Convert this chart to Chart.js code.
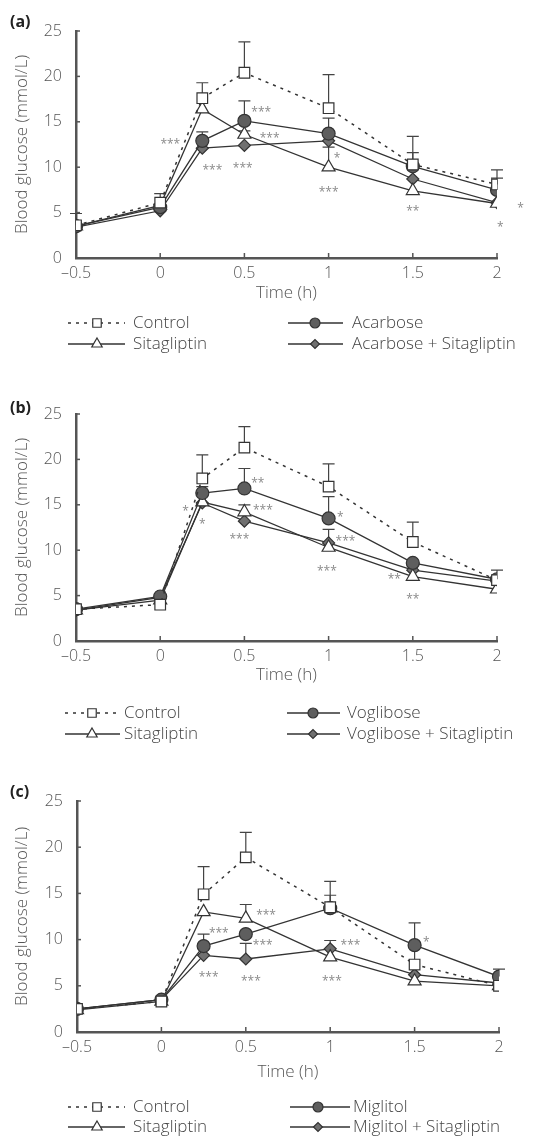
<!DOCTYPE html>
<html>
<head>
<meta charset="utf-8">
<script src="https://cdn.jsdelivr.net/npm/chart.js@4"></script>
<style>
  html, body { margin: 0; padding: 0; background: #fff; }
  #wrap { position: relative; width: 557px; height: 1141px; overflow: hidden; }
  canvas { position: absolute; left: 0; }
</style>
</head>
<body>
<div id="wrap">
  <canvas id="chartA" width="557" height="383" style="top:0px"></canvas>
  <canvas id="chartB" width="557" height="387" style="top:383px"></canvas>
  <canvas id="chartC" width="557" height="371" style="top:770px"></canvas>
</div>
<script>
// Shared axes
const times = [-0.5, 0, 0.25, 0.5, 1, 1.5, 2];
const xTicks = [-0.5, 0, 0.5, 1, 1.5, 2];
const yTicks = [0, 5, 10, 15, 20, 25];

// (a) Acarbose
const aControl = [3.6, 6.1, 17.6, 20.4, 16.5, 10.3, 8.1];
const aDrug    = [3.5, 5.6, 12.9, 15.1, 13.7, 10.1, 7.5];
const aSita    = [3.5, 5.8, 16.4, 13.6, 10.0, 7.4, 6.0];
const aCombo   = [3.4, 5.2, 12.1, 12.4, 12.9, 8.7, 6.1];
const aControlErr = [4.9, 7.1, 19.3, 23.8, 20.2, 13.4, 9.7];
const aDrugErr    = [null, null, 13.9, 17.3, 15.4, 11.6, 8.8];
const aSitaErr    = [null, null, null, 14.0, 12.2, null, null];
const aComboErr   = [null, null, null, null, null, null, null];
const aStars = [[0.06, 12.5, '***'], [0.31, 9.6, '***'], [0.49, 9.8, '***'], [0.6, 16.0, '***'],
  [0.65, 13.2, '***'], [1.05, 11.0, '*'], [1.0, 7.2, '***'], [1.5, 5.1, '**'], [2.14, 5.4, '*'], [2.02, 3.3, '*']];

// (b) Voglibose
const bControl = [3.5, 4.0, 17.9, 21.3, 17.0, 10.9, 6.7];
const bDrug    = [3.5, 4.9, 16.3, 16.8, 13.5, 8.6, 6.8];
const bSita    = [3.4, 4.5, 15.3, 14.2, 10.3, 7.1, 5.7];
const bCombo   = [3.4, 4.8, 15.2, 13.2, 10.8, 7.8, 6.6];
const bControlErr = [null, null, 20.5, 23.6, 19.5, 13.1, null];
const bDrugErr    = [null, null, 17.0, 19.0, 15.9, null, 7.8];
const bSitaErr    = [null, null, null, 15.0, 12.3, null, null];
const bComboErr   = [null, null, null, null, null, null, null];
const bStars = [[0.58, 17.3, '**'], [0.61, 14.4, '***'], [1.07, 13.6, '*'], [1.1, 10.9, '***'],
  [0.99, 7.7, '***'], [1.39, 6.8, '**'], [1.5, 4.6, '**'], [0.47, 11.2, '***'], [0.25, 12.8, '*'], [0.15, 14.2, '*']];

// (c) Miglitol
const cControl = [2.5, 3.3, 14.9, 18.9, 13.5, 7.3, 5.0];
const cDrug    = [2.5, 3.5, 9.3, 10.6, 13.4, 9.4, 6.0];
const cSita    = [2.4, 3.3, 13.0, 12.3, 8.1, 5.5, 5.0];
const cCombo   = [2.5, 3.5, 8.3, 7.9, 9.0, 6.2, 5.3];
const cControlErr = [null, null, 17.9, 21.6, 16.3, 11.8, null];
const cDrugErr    = [null, null, 10.6, null, 14.8, null, 6.8];
const cSitaErr    = [null, null, null, 13.8, null, null, null];
const cComboErr   = [null, null, null, 9.6, 9.9, null, null];
const cStars = [[0.34, 10.6, '***'], [0.62, 12.6, '***'], [0.6, 9.3, '***'], [0.28, 5.9, '***'],
  [0.53, 5.5, '***'], [1.12, 9.3, '***'], [1.01, 5.5, '***'], [1.57, 9.7, '*']];

const FONT = "'Open Sans', 'Noto Sans', sans-serif";
const INK = '#555';

// series styles, same order as the data arrays
const styles = [
  { pointStyle: 'rect', radius: 7.5, fill: '#fff', dash: [3, 5], width: 1.5 },
  { pointStyle: 'circle', radius: 6.5, fill: '#5e5e5e', dash: [], width: 1.3 },
  { pointStyle: 'triangle', radius: 7.5, fill: '#fff', dash: [], width: 1.3 },
  { pointStyle: 'rectRot', radius: 6, fill: '#707070', dash: [], width: 1.3 }
];

function toPoints(vals) {
  return vals.map((v, i) => ({ x: times[i], y: v }));
}

function makeExtras(cfg) {
  return {
    id: 'extras',
    beforeDatasetsDraw(chart) {
      const { ctx, scales: { x, y }, chartArea } = chart;
      ctx.save();
      // inward tick marks
      ctx.strokeStyle = INK;
      ctx.lineWidth = 1.5;
      yTicks.forEach(v => {
        const py = y.getPixelForValue(v);
        ctx.beginPath(); ctx.moveTo(chartArea.left, py); ctx.lineTo(chartArea.left + 4, py); ctx.stroke();
      });
      xTicks.forEach(v => {
        const px = x.getPixelForValue(v);
        ctx.beginPath(); ctx.moveTo(px, chartArea.bottom); ctx.lineTo(px, chartArea.bottom - 5); ctx.stroke();
      });
      // error bars (upper only)
      ctx.strokeStyle = '#444';
      ctx.lineWidth = 1.2;
      cfg.errors.forEach((err, i) => {
        const means = cfg.series[i];
        err.forEach((up, j) => {
          if (up == null) return;
          const px = x.getPixelForValue(times[j]);
          const y0 = y.getPixelForValue(means[j]);
          const y1 = y.getPixelForValue(up);
          ctx.beginPath();
          ctx.moveTo(px, y0); ctx.lineTo(px, y1);
          ctx.moveTo(px - 6, y1); ctx.lineTo(px + 6, y1);
          ctx.stroke();
        });
      });
      ctx.restore();
    },
    afterDraw(chart) {
      const { ctx, scales: { x, y } } = chart;
      ctx.save();
      // panel label
      ctx.fillStyle = '#222';
      ctx.font = 'bold 16px ' + FONT;
      ctx.textAlign = 'left';
      ctx.textBaseline = 'middle';
      ctx.fillText(cfg.label, 10, cfg.labelY);
      // significance marks
      ctx.fillStyle = '#8a8a8a';
      ctx.font = '12px ' + FONT;
      ctx.textAlign = 'center';
      cfg.stars.forEach(s => {
        ctx.fillText(s[2], x.getPixelForValue(s[0]), y.getPixelForValue(s[1]));
      });
      // legend, two columns
      const lg = cfg.legend;
      const slots = [
        [lg.col1, lg.rows[0]], [lg.col2, lg.rows[0]],
        [lg.col1, lg.rows[1]], [lg.col2, lg.rows[1]]
      ];
      [0, 1, 2, 3].forEach((si, k) => {
        const st = styles[si];
        const [col, ry] = slots[k];
        ctx.strokeStyle = '#333';
        ctx.lineWidth = st.width;
        ctx.setLineDash(st.dash);
        ctx.beginPath(); ctx.moveTo(col.x1, ry); ctx.lineTo(col.x2, ry); ctx.stroke();
        ctx.setLineDash([]);
        ctx.fillStyle = st.fill;
        ctx.lineWidth = 1.2;
        Chart.helpers.drawPoint(ctx, { pointStyle: st.pointStyle, radius: st.radius - 1.5, rotation: 0, borderWidth: 1.2 }, col.mx, ry);
        ctx.fillStyle = '#444';
        ctx.font = '300 17px ' + FONT;
        ctx.textAlign = 'left';
        ctx.fillText(cfg.names[si], col.tx, ry);
      });
      ctx.restore();
    }
  };
}

function makePanel(cfg) {
  const datasets = cfg.series.map((vals, i) => {
    const st = styles[i];
    return {
      label: cfg.names[i],
      data: toPoints(vals),
      borderColor: '#333',
      borderWidth: st.width,
      borderDash: st.dash,
      tension: 0,
      pointStyle: st.pointStyle,
      pointRadius: st.radius,
      pointBackgroundColor: st.fill,
      pointBorderColor: '#333',
      pointBorderWidth: 1.2
    };
  });
  new Chart(document.getElementById(cfg.id), {
    type: 'line',
    data: { datasets },
    options: {
      responsive: false,
      animation: false,
      devicePixelRatio: 1,
      layout: { padding: { left: 12, right: cfg.padRight, top: 31, bottom: cfg.padBottom } },
      plugins: { legend: { display: false }, tooltip: { enabled: false } },
      scales: {
        x: {
          type: 'linear',
          min: -0.5, max: 2,
          afterBuildTicks: s => { s.ticks = xTicks.map(v => ({ value: v })); },
          afterFit: s => { s.height = cfg.xAxisH; },
          ticks: {
            padding: 6, color: INK, font: { family: FONT, size: 16, weight: 300 },
            callback: v => (v < 0 ? '\u2013' + Math.abs(v) : String(v))
          },
          grid: { drawOnChartArea: false, drawTicks: false },
          border: { color: INK, width: 2.5 },
          title: { display: true, text: 'Time (h)', color: INK, padding: 0, font: { family: FONT, size: 17, weight: 300 } }
        },
        y: {
          min: 0, max: 25,
          afterBuildTicks: s => { s.ticks = yTicks.map(v => ({ value: v })); },
          afterFit: s => { s.width = cfg.yAxisW; },
          ticks: { padding: 14, color: INK, font: { family: FONT, size: 16, weight: 300 } },
          grid: { drawOnChartArea: false, drawTicks: false },
          border: { color: INK, width: 2.5 },
          title: { display: true, text: 'Blood glucose (mmol/L)', color: INK, padding: 0, font: { family: FONT, size: 17, weight: 300 } }
        }
      }
    },
    plugins: [makeExtras(cfg)]
  });
}

makePanel({
  id: 'chartA', label: '(a)', labelY: 22,
  names: ['Control', 'Acarbose', 'Sitagliptin', 'Acarbose + Sitagliptin'],
  series: [aControl, aDrug, aSita, aCombo],
  errors: [aControlErr, aDrugErr, aSitaErr, aComboErr],
  stars: aStars,
  padRight: 60, padBottom: 80, xAxisH: 45, yAxisW: 64,
  legend: { rows: [323, 344], col1: { x1: 68, x2: 125, mx: 97, tx: 133 }, col2: { x1: 288, x2: 343, mx: 315, tx: 352 } }
});

makePanel({
  id: 'chartB', label: '(b)', labelY: 25,
  names: ['Control', 'Voglibose', 'Sitagliptin', 'Voglibose + Sitagliptin'],
  series: [bControl, bDrug, bSita, bCombo],
  errors: [bControlErr, bDrugErr, bSitaErr, bComboErr],
  stars: bStars,
  padRight: 60, padBottom: 85, xAxisH: 44, yAxisW: 64,
  legend: { rows: [330, 351], col1: { x1: 65, x2: 120, mx: 92, tx: 124 }, col2: { x1: 287, x2: 340, mx: 313, tx: 347 } }
});

makePanel({
  id: 'chartC', label: '(c)', labelY: 22,
  names: ['Control', 'Miglitol', 'Sitagliptin', 'Miglitol + Sitagliptin'],
  series: [cControl, cDrug, cSita, cCombo],
  errors: [cControlErr, cDrugErr, cSitaErr, cComboErr],
  stars: cStars,
  padRight: 58, padBottom: 59, xAxisH: 50, yAxisW: 65,
  legend: { rows: [337, 357], col1: { x1: 68, x2: 125, mx: 97, tx: 133 }, col2: { x1: 290, x2: 350, mx: 318, tx: 353 } }
});
</script>
</body>
</html>
